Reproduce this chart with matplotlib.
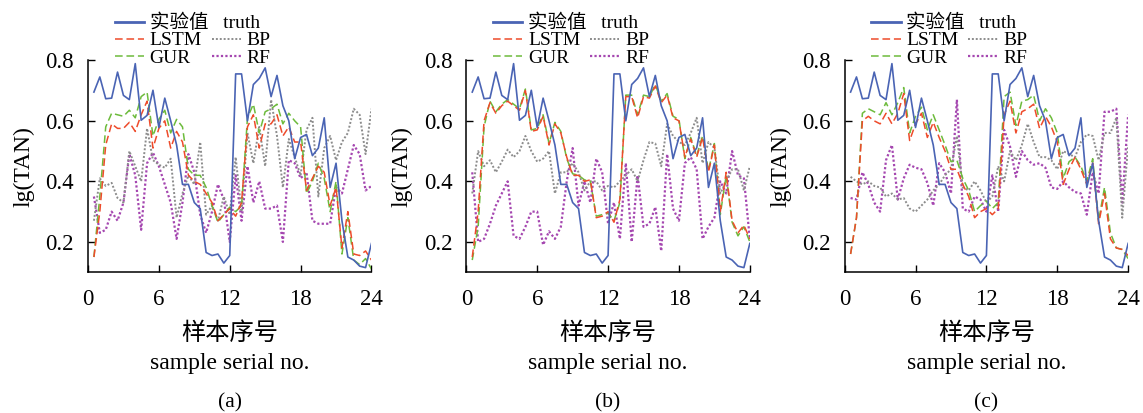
import numpy as np
import matplotlib
matplotlib.use("Agg")
import matplotlib.pyplot as plt
from matplotlib.lines import Line2D

plt.rcParams['font.family'] = ['Liberation Serif', 'Noto Sans CJK SC']

# sample serial no. (half steps)
sample_no = np.arange(0.5, 24.5, 0.5)

truth = [0.695, 0.745, 0.673, 0.675, 0.761, 0.684, 0.670, 0.789, 0.602, 0.618,
         0.701, 0.578, 0.675, 0.60, 0.52, 0.39, 0.39, 0.33, 0.31, 0.165,
         0.155, 0.16, 0.13, 0.155, 0.755, 0.755, 0.60, 0.72, 0.74, 0.775,
         0.68, 0.75, 0.65, 0.60, 0.475, 0.545, 0.555, 0.485, 0.51, 0.61,
         0.38, 0.46, 0.27, 0.15, 0.14, 0.12, 0.115, 0.195]

# panel (a)
lstm_a = [0.15, 0.30, 0.52, 0.59, 0.575, 0.575, 0.595, 0.565, 0.62, 0.665,
          0.51, 0.575, 0.60, 0.51, 0.565, 0.53, 0.42, 0.40, 0.39, 0.36,
          0.33, 0.27, 0.29, 0.31, 0.285, 0.33, 0.58, 0.62, 0.51, 0.59,
          0.59, 0.62, 0.55, 0.58, 0.53, 0.53, 0.37, 0.41, 0.45, 0.43,
          0.32, 0.38, 0.18, 0.30, 0.16, 0.155, 0.17, 0.14]
gur_a = [0.15, 0.35, 0.58, 0.625, 0.62, 0.615, 0.635, 0.61, 0.68, 0.695,
         0.55, 0.605, 0.635, 0.56, 0.605, 0.58, 0.44, 0.42, 0.42, 0.38,
         0.32, 0.265, 0.29, 0.315, 0.30, 0.32, 0.61, 0.655, 0.56, 0.63,
         0.64, 0.655, 0.59, 0.625, 0.60, 0.58, 0.36, 0.40, 0.46, 0.41,
         0.30, 0.40, 0.16, 0.28, 0.14, 0.125, 0.145, 0.11]
bp_a = [0.27, 0.41, 0.385, 0.395, 0.345, 0.33, 0.50, 0.45, 0.40, 0.575,
        0.47, 0.455, 0.445, 0.475, 0.28, 0.36, 0.42, 0.39, 0.53, 0.29,
        0.32, 0.27, 0.35, 0.29, 0.48, 0.30, 0.56, 0.46, 0.58, 0.45,
        0.67, 0.55, 0.38, 0.54, 0.48, 0.42, 0.57, 0.61, 0.35, 0.51,
        0.55, 0.47, 0.53, 0.56, 0.64, 0.62, 0.49, 0.64]
rf_a = [0.35, 0.23, 0.24, 0.30, 0.27, 0.33, 0.49, 0.42, 0.24, 0.46,
        0.495, 0.45, 0.39, 0.33, 0.21, 0.33, 0.49, 0.43, 0.29, 0.23,
        0.30, 0.39, 0.34, 0.20, 0.42, 0.27, 0.45, 0.33, 0.40, 0.31,
        0.31, 0.32, 0.20, 0.47, 0.46, 0.41, 0.43, 0.27, 0.26, 0.26,
        0.26, 0.38, 0.36, 0.44, 0.52, 0.49, 0.37, 0.385]

# panel (b)
lstm_b = [0.15, 0.30, 0.60, 0.66, 0.625, 0.65, 0.665, 0.65, 0.635, 0.70,
          0.565, 0.57, 0.615, 0.52, 0.59, 0.56, 0.48, 0.42, 0.42, 0.40,
          0.405, 0.28, 0.285, 0.30, 0.265, 0.34, 0.68, 0.68, 0.61, 0.68,
          0.675, 0.715, 0.66, 0.685, 0.61, 0.60, 0.48, 0.54, 0.48, 0.545,
          0.43, 0.52, 0.30, 0.43, 0.27, 0.23, 0.255, 0.21]
gur_b = [0.14, 0.25, 0.58, 0.665, 0.63, 0.655, 0.67, 0.655, 0.64, 0.705,
         0.57, 0.575, 0.62, 0.525, 0.595, 0.565, 0.475, 0.425, 0.42, 0.405,
         0.40, 0.285, 0.29, 0.295, 0.27, 0.33, 0.685, 0.685, 0.62, 0.685,
         0.68, 0.72, 0.665, 0.69, 0.615, 0.605, 0.475, 0.545, 0.485, 0.55,
         0.435, 0.525, 0.29, 0.42, 0.265, 0.22, 0.25, 0.20]
bp_b = [0.36, 0.50, 0.45, 0.47, 0.43, 0.465, 0.505, 0.48, 0.50, 0.55,
        0.50, 0.465, 0.475, 0.50, 0.36, 0.43, 0.43, 0.46, 0.43, 0.37,
        0.40, 0.40, 0.37, 0.385, 0.38, 0.40, 0.42, 0.44, 0.40, 0.47,
        0.53, 0.525, 0.45, 0.59, 0.55, 0.53, 0.52, 0.56, 0.61, 0.46,
        0.53, 0.51, 0.36, 0.40, 0.44, 0.44, 0.37, 0.45]
rf_b = [0.43, 0.20, 0.21, 0.26, 0.32, 0.36, 0.40, 0.22, 0.21, 0.25,
        0.30, 0.30, 0.19, 0.235, 0.21, 0.25, 0.40, 0.51, 0.32, 0.40,
        0.33, 0.475, 0.43, 0.26, 0.33, 0.21, 0.46, 0.20, 0.42, 0.25,
        0.26, 0.315, 0.17, 0.49, 0.31, 0.27, 0.46, 0.48, 0.44, 0.21,
        0.25, 0.28, 0.40, 0.36, 0.50, 0.42, 0.41, 0.21]

# panel (c)
lstm_c = [0.16, 0.28, 0.60, 0.615, 0.60, 0.59, 0.625, 0.59, 0.625, 0.69,
          0.535, 0.59, 0.625, 0.545, 0.595, 0.545, 0.50, 0.44, 0.44, 0.39,
          0.35, 0.28, 0.30, 0.31, 0.29, 0.31, 0.62, 0.665, 0.56, 0.63,
          0.64, 0.655, 0.575, 0.615, 0.58, 0.53, 0.39, 0.44, 0.48, 0.44,
          0.39, 0.46, 0.26, 0.36, 0.21, 0.18, 0.175, 0.155]
gur_c = [0.16, 0.28, 0.625, 0.64, 0.63, 0.62, 0.66, 0.62, 0.66, 0.71,
         0.56, 0.615, 0.645, 0.57, 0.62, 0.57, 0.52, 0.465, 0.47, 0.41,
         0.37, 0.30, 0.32, 0.335, 0.31, 0.33, 0.68, 0.695, 0.585, 0.665,
         0.67, 0.685, 0.60, 0.64, 0.61, 0.56, 0.41, 0.465, 0.48, 0.45,
         0.40, 0.475, 0.27, 0.38, 0.23, 0.18, 0.175, 0.145]
bp_c = [0.415, 0.40, 0.39, 0.40, 0.385, 0.38, 0.35, 0.36, 0.34, 0.345,
        0.31, 0.30, 0.32, 0.34, 0.37, 0.39, 0.42, 0.44, 0.55, 0.38,
        0.37, 0.40, 0.37, 0.33, 0.35, 0.45, 0.40, 0.50, 0.47, 0.52,
        0.59, 0.53, 0.48, 0.48, 0.47, 0.44, 0.50, 0.49, 0.48, 0.53,
        0.555, 0.55, 0.47, 0.56, 0.56, 0.61, 0.28, 0.52]
rf_c = [0.345, 0.34, 0.43, 0.39, 0.33, 0.30, 0.47, 0.52, 0.34, 0.41,
        0.455, 0.445, 0.44, 0.395, 0.32, 0.46, 0.43, 0.36, 0.67, 0.31,
        0.30, 0.35, 0.34, 0.30, 0.42, 0.30, 0.57, 0.515, 0.415, 0.50,
        0.47, 0.455, 0.46, 0.445, 0.38, 0.375, 0.40, 0.38, 0.365, 0.36,
        0.29, 0.43, 0.36, 0.63, 0.63, 0.64, 0.33, 0.62]

panels = [("(a)", lstm_a, gur_a, bp_a, rf_a),
          ("(b)", lstm_b, gur_b, bp_b, rf_b),
          ("(c)", lstm_c, gur_c, bp_c, rf_c)]

x_ticks = [0, 6, 12, 18, 24]
y_ticks = [0.2, 0.4, 0.6, 0.8]
y_ticklabels = ["0.2", "0.4", "0.6", "0.8"]

C_TRUTH = "#4a64b4"
C_LSTM = "#ee4b2b"
C_GUR = "#6dbb3c"
C_BP = "#8c8c8c"
C_RF = "#a547b0"
DASH = (0, (5, 2.5))
DOT = (0, (1, 1))

fig = plt.figure(figsize=(11.43, 4.13), dpi=100)
lefts = [0.077, 0.408, 0.739]

for left, (tag, lstm, gur, bp, rf) in zip(lefts, panels):
    ax = fig.add_axes([left, 0.341, 0.248, 0.513])

    ax.plot(sample_no, rf, color=C_RF, lw=1.6, ls=DOT)
    ax.plot(sample_no, bp, color=C_BP, lw=1.4, ls=DOT)
    ax.plot(sample_no, gur, color=C_GUR, lw=1.1, ls=DASH)
    ax.plot(sample_no, lstm, color=C_LSTM, lw=1.1, ls=DASH)
    ax.plot(sample_no, truth, color=C_TRUTH, lw=1.2)

    ax.set_xlim(0, 24)
    ax.set_ylim(0.1, 0.8)
    ax.set_xticks(x_ticks)
    ax.set_yticks(y_ticks)
    ax.set_yticklabels(y_ticklabels)
    ax.tick_params(direction="in", length=5, width=1, labelsize=16.5)
    ax.tick_params(axis="x", pad=12)
    ax.tick_params(axis="y", pad=10)
    for s in ["top", "right"]:
        ax.spines[s].set_visible(False)
    for s in ["left", "bottom"]:
        ax.spines[s].set_linewidth(1.1)

    ax.set_ylabel("lg(TAN)", fontsize=17, labelpad=8)
    ax.text(0.5, -0.29, "样本序号", transform=ax.transAxes,
            ha="center", va="center", fontsize=17.5)
    ax.text(0.5, -0.43, "sample serial no.", transform=ax.transAxes,
            ha="center", va="center", fontsize=17)
    ax.text(0.5, -0.615, tag, transform=ax.transAxes,
            ha="center", va="center", fontsize=15.5)

    # legend row one: truth, label runs across both columns
    leg1 = ax.legend([Line2D([], [], color=C_TRUTH, lw=2)], ["实验值   truth"],
                     frameon=False, fontsize=14, loc="upper left",
                     bbox_to_anchor=(0.06, 1.265), borderpad=0,
                     handlelength=1.5, handletextpad=0.3)
    ax.add_artist(leg1)
    # rows two and three: LSTM/GUR | BP/RF
    handles = [Line2D([], [], color=C_LSTM, lw=1.1, ls=DASH),
               Line2D([], [], color=C_GUR, lw=1.1, ls=DASH),
               Line2D([], [], color=C_BP, lw=1.4, ls=DOT),
               Line2D([], [], color=C_RF, lw=1.6, ls=DOT)]
    ax.legend(handles, ["LSTM", "GUR", "BP", "RF"], ncol=2, frameon=False,
              fontsize=14, loc="upper left", bbox_to_anchor=(0.06, 1.18),
              borderpad=0, handlelength=1.5, handletextpad=0.3,
              columnspacing=0.5, labelspacing=0.0)

fig.savefig("out.png", dpi=100)
